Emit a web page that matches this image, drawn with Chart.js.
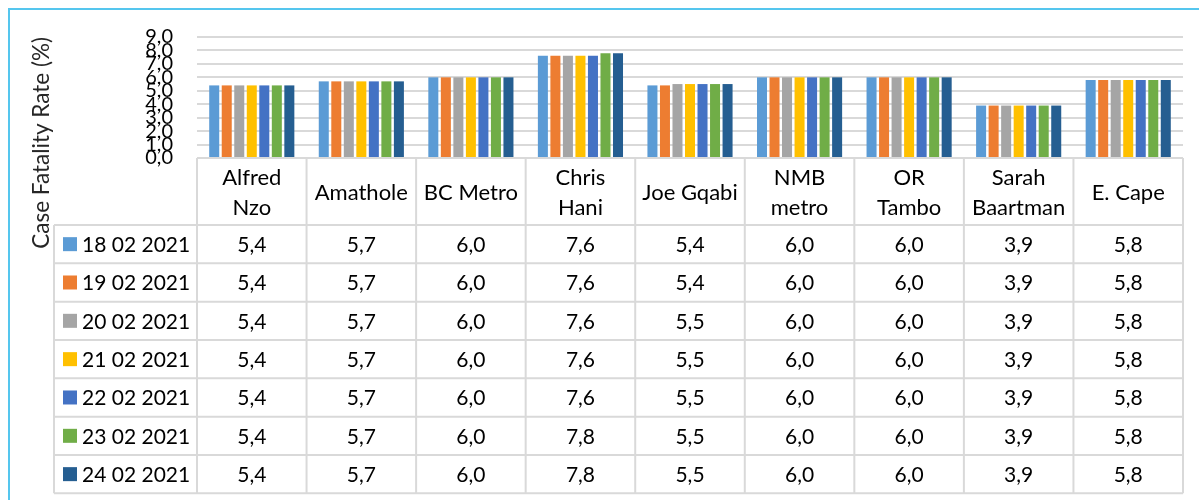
<!DOCTYPE html>
<html><head><meta charset="utf-8">
<script src="https://cdn.jsdelivr.net/npm/chart.js@4.4.1/dist/chart.umd.min.js"></script>
<style>
html,body{margin:0;padding:0;background:#fff;overflow:hidden}
#wrap{position:relative;width:1199px;height:500px;overflow:hidden;background:#fff}
#frame{position:absolute;left:8px;top:8px;width:1300px;height:600px;border-left:2px solid #55c6ee;border-top:2px solid #55c6ee;pointer-events:none}
canvas{position:absolute;left:0;top:0}
</style></head><body>
<div id="wrap"><canvas id="c" width="1199" height="500"></canvas><div id="frame"></div></div>
<script>
// ---- data ----
const categories = [['Alfred','Nzo'], 'Amathole', 'BC Metro', ['Chris','Hani'], 'Joe Gqabi', ['NMB','metro'], ['OR','Tambo'], ['Sarah','Baartman'], 'E. Cape'];
const seriesLabels = ['18 02 2021','19 02 2021','20 02 2021','21 02 2021','22 02 2021','23 02 2021','24 02 2021'];
const v18 = [5.4, 5.7, 6.0, 7.6, 5.4, 6.0, 6.0, 3.9, 5.8];
const v19 = [5.4, 5.7, 6.0, 7.6, 5.4, 6.0, 6.0, 3.9, 5.8];
const v20 = [5.4, 5.7, 6.0, 7.6, 5.5, 6.0, 6.0, 3.9, 5.8];
const v21 = [5.4, 5.7, 6.0, 7.6, 5.5, 6.0, 6.0, 3.9, 5.8];
const v22 = [5.4, 5.7, 6.0, 7.6, 5.5, 6.0, 6.0, 3.9, 5.8];
const v23 = [5.4, 5.7, 6.0, 7.8, 5.5, 6.0, 6.0, 3.9, 5.8];
const v24 = [5.4, 5.7, 6.0, 7.8, 5.5, 6.0, 6.0, 3.9, 5.8];
const yMin = 0, yMax = 9, yStep = 1;
const yTitle = 'Case Fatality Rate (%)';

// ---- styles ----
const colors = ['#5B9BD5','#ED7D31','#A5A5A5','#FFC000','#4472C4','#70AD47','#255E91'];
const seriesValues = [v18, v19, v20, v21, v22, v23, v24];
const FONT = 'Lato, "Open Sans", sans-serif';
const fmt = v => Number(v).toFixed(1).replace('.', ',');

const tablePlugin = {
  id: 'dataTable',
  afterDraw(chart, args, opts) {
    const {ctx, chartArea} = chart;
    const x = chart.scales.x;
    const n = categories.length;
    const colW = (x.right - x.left) / n;
    const headTop = chartArea.bottom;
    const headBottom = x.bottom;
    const rowH = opts.rowHeight;
    const nRows = chart.data.datasets.length;
    const tableBottom = headBottom + rowH * nRows;
    const legLeft = opts.legendLeft;
    ctx.save();
    ctx.strokeStyle = '#d9d9d9';
    ctx.lineWidth = 2;
    ctx.beginPath();
    ctx.moveTo(x.left, headTop); ctx.lineTo(x.right, headTop);
    for (let r = 0; r <= nRows; r++) {
      const yy = headBottom + r * rowH;
      ctx.moveTo(legLeft, yy); ctx.lineTo(x.right, yy);
    }
    for (let k = 0; k <= n; k++) {
      const xx = x.left + k * colW;
      ctx.moveTo(xx, headTop); ctx.lineTo(xx, tableBottom);
    }
    ctx.moveTo(legLeft, headBottom); ctx.lineTo(legLeft, tableBottom);
    ctx.stroke();

    ctx.font = opts.font;
    ctx.fillStyle = '#000';
    ctx.textBaseline = 'middle';
    chart.data.datasets.forEach((ds, r) => {
      const cy = headBottom + r * rowH + rowH / 2;
      ctx.fillStyle = ds.backgroundColor;
      ctx.fillRect(legLeft + 9, cy - 7, 14, 14);
      ctx.fillStyle = '#000';
      ctx.textAlign = 'left';
      ctx.fillText(ds.label, legLeft + 28, cy + 1);
      ctx.textAlign = 'center';
      ds.data.forEach((v, i) => {
        ctx.fillText(fmt(v), x.getPixelForValue(i), cy + 1);
      });
    });
    ctx.restore();
  }
};

new Chart(document.getElementById('c'), {
  type: 'bar',
  data: {
    labels: categories,
    datasets: seriesLabels.map((lab, i) => ({
      label: lab,
      data: seriesValues[i],
      backgroundColor: colors[i],
      barPercentage: 0.8,
      categoryPercentage: 0.8
    }))
  },
  options: {
    responsive: false,
    animation: false,
    events: [],
    layout: { padding: { left: 10, top: 37, right: 16, bottom: 275 } },
    plugins: {
      legend: { display: false },
      tooltip: { enabled: false },
      dataTable: { rowHeight: 38.33, legendLeft: 54, font: '21px ' + FONT }
    },
    scales: {
      x: {
        grid: { display: false, drawTicks: false },
        border: { display: false },
        ticks: { color: '#000', font: { family: FONT, size: 22, lineHeight: 1.36 }, crossAlign: 'center', padding: 20, maxRotation: 0, autoSkip: false },
        afterFit: s => { s.height = 67; }
      },
      y: {
        min: yMin, max: yMax,
        grid: { color: '#d9d9d9', lineWidth: 2, drawTicks: false },
        border: { display: false },
        ticks: { stepSize: yStep, autoSkip: false, color: '#000', font: { family: FONT, size: 20 }, padding: 24, callback: v => fmt(v) },
        title: { display: true, text: yTitle, align: 'end', color: '#262626', font: { family: FONT, size: 22.5 }, padding: { top: 18, bottom: 0 } },
        afterFit: s => { s.width = 187; }
      }
    }
  },
  plugins: [tablePlugin]
});
</script>
</body></html>
